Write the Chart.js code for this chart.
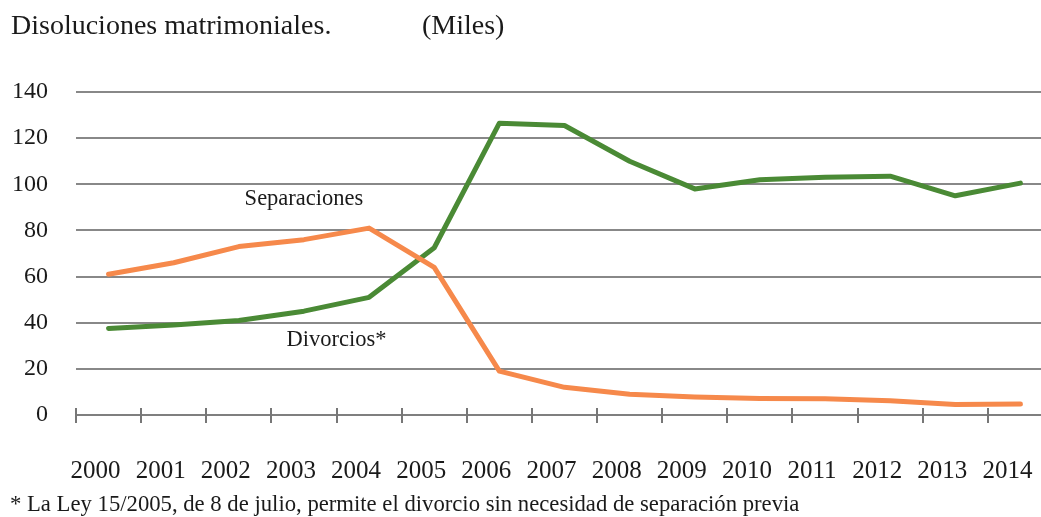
<!DOCTYPE html>
<html>
<head>
<meta charset="utf-8">
<script src="https://cdn.jsdelivr.net/npm/chart.js@4"></script>
<style>
  html, body { margin: 0; padding: 0; background: #fff; overflow: hidden; }
  body { width: 1041px; height: 517px; position: relative; font-family: 'Liberation Serif', serif; color: #1a1a1a; }
  #wrap { position: absolute; left: 0; top: 0; width: 1060px; height: 517px; }
  .title { position: absolute; top: 9px; font-size: 28px; white-space: nowrap; }
  #note { position: absolute; left: 10px; top: 491px; font-size: 22.7px; white-space: nowrap; }
</style>
</head>
<body>
<div id="wrap"><canvas id="chart" width="1060" height="517"></canvas></div>
<div class="title" style="left:11px">Disoluciones matrimoniales.</div>
<div class="title" style="left:422px">(Miles)</div>
<div id="note">* La Ley 15/2005, de 8 de julio, permite el divorcio sin necesidad de separación previa</div>

<script>
// ── data ──────────────────────────────────────────────────────────────────
const years        = ['2000', '2001', '2002', '2003', '2004', '2005', '2006', '2007',
                      '2008', '2009', '2010', '2011', '2012', '2013', '2014'];
const separaciones = [61, 66, 73, 76, 81, 64, 19, 12, 9, 7.8, 7.2, 7, 6.2, 4.5, 4.8];
const divorcios    = [37.5, 39, 41, 45, 51, 72.5, 126.5, 125.5, 110, 98, 102, 103, 103.5, 95, 100.5];
const yTicks       = [0, 20, 40, 60, 80, 100, 120, 140];

// series labels placed on the plot: [text, category index, value]
const seriesLabels = [
  ['Separaciones', 3.0, 93.5],
  ['Divorcios*',   3.5, 32.5],
];

const orange = '#f6894b';
const green  = '#4a8a35';
const grid   = '#888';
const text   = '#1a1a1a';
const font   = 'Liberation Serif';

// ─── tick marks crossing the x axis + inline labels ──────────────────────
const extras = {
  id: 'extras',
  afterDatasetsDraw(chart) {
    const { ctx, scales: { x, y } } = chart;
    const y0 = y.getPixelForValue(0);
    ctx.save();
    ctx.strokeStyle = '#777';
    ctx.lineWidth = 2;
    for (let i = 0; i <= years.length; i++) {
      const px = Math.round(x.getPixelForValue(i - 0.5));
      ctx.beginPath();
      ctx.moveTo(px, y0 - 7);
      ctx.lineTo(px, y0 + 8);
      ctx.stroke();
    }
    ctx.fillStyle = text;
    ctx.font = `22.5px "${font}"`;
    ctx.textAlign = 'center';
    ctx.textBaseline = 'middle';
    seriesLabels.forEach(([t, xi, v]) => {
      ctx.fillText(t, x.getPixelForValue(xi), y.getPixelForValue(v));
    });
    ctx.restore();
  }
};

new Chart(document.getElementById('chart'), {
  type: 'line',
  data: {
    labels: years,
    datasets: [
      { label: 'Separaciones', data: separaciones, borderColor: orange, borderWidth: 5 },
      { label: 'Divorcios',    data: divorcios,    borderColor: green,  borderWidth: 5 },
    ]
  },
  options: {
    responsive: false,
    animation: false,
    elements: {
      point: { radius: 0 },
      line:  { tension: 0, borderCapStyle: 'round', borderJoinStyle: 'round' }
    },
    layout: { padding: { top: 92, right: 7, bottom: 0, left: 0 } },
    scales: {
      x: {
        offset: true,
        grid: { offset: true, drawOnChartArea: false, drawTicks: true,
                tickLength: 41, tickColor: 'rgba(0,0,0,0)' },
        border: { display: true, color: '#7f7f7f', width: 2 },
        ticks: {
          color: text, font: { family: font, size: 25 },
          padding: 0, labelOffset: -13, maxRotation: 0, autoSkip: false
        },
        afterFit(s) { s.height = 102; }
      },
      y: {
        min: 0, max: 140,
        afterBuildTicks(s) { s.ticks = yTicks.map(v => ({ value: v })); },
        grid: { color: grid, lineWidth: 2, drawTicks: false },
        border: { display: false },
        ticks: { color: text, font: { family: font, size: 24 }, padding: 28 },
        afterFit(s) { s.width = 76; }
      }
    },
    plugins: { legend: { display: false }, tooltip: { enabled: false } }
  },
  plugins: [extras]
});
</script>
</body>
</html>
